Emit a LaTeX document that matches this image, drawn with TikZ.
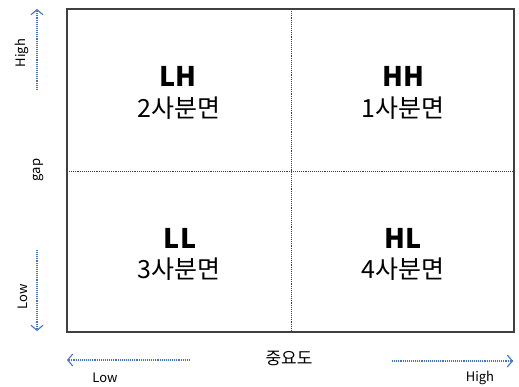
\documentclass[tikz,border=0pt]{standalone}
\usepackage{fontspec}
\setmainfont{Noto Sans CJK KR}
\usetikzlibrary{arrows.meta}
\definecolor{boxgray}{HTML}{404040}
\definecolor{arrowblue}{HTML}{4472C4}
\tikzset{
  quad/.style={font=\fontsize{27}{30}\selectfont\bfseries, inner sep=0pt},
  quadsub/.style={font=\fontsize{25}{28}\selectfont, inner sep=0pt},
  axislbl/.style={font=\fontsize{13}{15}\selectfont, inner sep=0pt},
  axisarrow/.style={arrowblue, line width=1.1pt, densely dotted, -{Straight Barb[length=5pt,width=12pt,line width=1.1pt]}},
  midline/.style={boxgray, line width=0.9pt, densely dotted},
}
\begin{document}
\begin{tikzpicture}[x=1pt,y=-1pt]
\useasboundingbox (0,0) rectangle (519,387);
\coordinate (tl) at (67,9);
\coordinate (br) at (514,332);
\draw[boxgray, line width=1.8pt] (tl) rectangle (br);
\coordinate (vt) at (291,9);
\coordinate (vb) at (291,332);
\coordinate (hl) at (67,171);
\coordinate (hr) at (514,171);
\draw[midline] (vt) -- (vb);
\draw[midline] (hl) -- (hr);
% quadrant labels
\node[quad] (lh) at (178,76) {LH};
\node[quadsub] (lhs) at (179,108) {2사분면};
\node[quad] (hh) at (403,76) {HH};
\node[quadsub] (hhs) at (403,108) {1사분면};
\node[quad] (ll) at (180,238) {LL};
\node[quadsub] (lls) at (179,269) {3사분면};
\node[quad] (hlq) at (403,238) {HL};
\node[quadsub] (hls) at (403,269) {4사분면};
% vertical axis
\coordinate (ha) at (37,90);
\coordinate (hb) at (37,9);
\coordinate (la) at (37,250);
\coordinate (lb) at (37,331);
\draw[axisarrow] (ha) -- (hb);
\draw[axisarrow] (la) -- (lb);
\node[axislbl, rotate=90] (high) at (22,53) {High};
\node[axislbl, rotate=90] (low) at (23,297) {Low};
\node[axislbl, rotate=90] (gap) at (39,170) {gap};
% horizontal axis
\coordinate (xa) at (190,360);
\coordinate (xb) at (67,360);
\coordinate (xc) at (392,361);
\coordinate (xd) at (513,361);
\draw[axisarrow] (xa) -- (xb);
\draw[axisarrow] (xc) -- (xd);
\node[font=\fontsize{17}{19}\selectfont, inner sep=0pt] (imp) at (289,358) {중요도};
\node[axislbl] (xlow) at (105,378) {Low};
\node[axislbl] (xhigh) at (480,378) {High};
\end{tikzpicture}
\end{document}
